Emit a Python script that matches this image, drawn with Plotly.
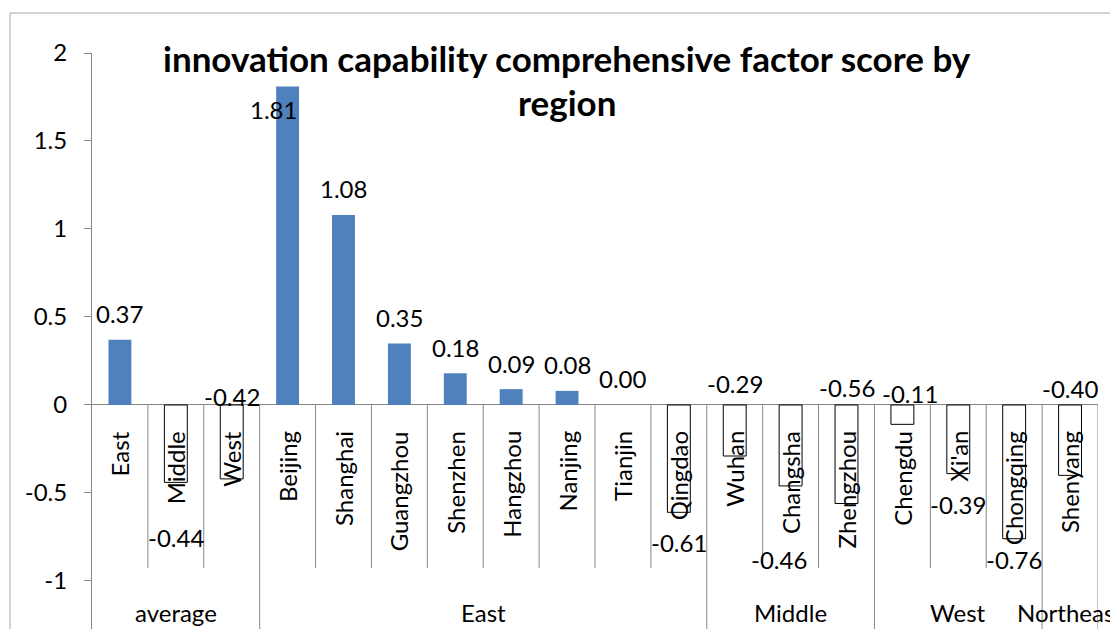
import plotly.graph_objects as go

# ---- data ----
categories = ["East", "Middle", "West",
              "Beijing", "Shanghai", "Guangzhou", "Shenzhen", "Hangzhou", "Nanjing", "Tianjin", "Qingdao",
              "Wuhan", "Changsha", "Zhengzhou",
              "Chengdu", "Xi'an", "Chongqing",
              "Shenyang"]
scores = [0.37, -0.44, -0.42,
          1.81, 1.08, 0.35, 0.18, 0.09, 0.08, 0.00, -0.61,
          -0.29, -0.46, -0.56,
          -0.11, -0.39, -0.76,
          -0.40]
groups = ["average", "East", "Middle", "West", "Northeast"]
group_sizes = [3, 8, 3, 3, 1]
title_line1 = "innovation capability comprehensive factor score by"
title_line2 = "region"
y_ticks = [-1, -0.5, 0, 0.5, 1, 1.5, 2]
y_tick_text = ["-1", "-0.5", "0", "0.5", "1", "1.5", "2"]

# ---- label placement (pixel offsets from the bar end) ----
label_dx = [0, 0, 0, -14, 0, 0, 0, 0, 0, 0, 0, 0, -12, 0, 8, 0, 0, 0]
label_dy = [26, -55, 82, -23, 26, 26, 26, 26, 26, 26, -30, 73, -74, 116, 31, -31, -21, 87]

FONT = "Lato"
FS = 24
POS = "#4F81BD"
AX = "#868686"
W, H = 1110, 629
ML, MR, MT, MB = 92, 12, 53, 0
PW, PH = W - ML - MR, H - MT - MB

fig = go.Figure()
fig.add_trace(go.Bar(
    x=categories, y=scores,
    marker=dict(color=[POS if v >= 0 else "white" for v in scores],
                line=dict(color=[POS if v >= 0 else "black" for v in scores],
                          width=[0 if v >= 0 else 1 for v in scores])),
    hoverinfo="skip",
))

shapes = []
# chart border
shapes.append(dict(type="rect", xref="paper", yref="paper",
                   x0=(10 - ML) / PW, x1=1.3, y0=-0.3, y1=(H - 13) / PH,
                   line=dict(color="#a6a6a6", width=1), fillcolor="rgba(0,0,0,0)", layer="below"))
# category dividers
idx = 0
bounds = set()
for s in group_sizes:
    idx += s
    bounds.add(idx)
for i in range(1, len(categories) + 1):
    long = i in bounds
    shapes.append(dict(type="line", xref="x", yref="y", ysizemode="pixel", yanchor=0,
                       x0=i - 0.5, x1=i - 0.5, y0=0, y1=-300 if long else -163,
                       line=dict(color=AX, width=1)))

annotations = []
# data labels
for i, (c, v) in enumerate(zip(categories, scores)):
    annotations.append(dict(x=i, y=v, xref="x", yref="y", text=f"{v:.2f}", showarrow=False,
                            xshift=label_dx[i], yshift=label_dy[i], yanchor="middle", xanchor="center",
                            font=dict(family=FONT, size=FS, color="black")))
# category labels
for i, c in enumerate(categories):
    annotations.append(dict(x=i, y=0, xref="x", yref="y", text=c, showarrow=False, textangle=-90,
                            yanchor="top", xanchor="center", yshift=-24,
                            font=dict(family=FONT, size=FS, color="black")))
# group labels
start = 0
for g, s in zip(groups, group_sizes):
    annotations.append(dict(x=start + (s - 1) / 2, y=0, xref="x", yref="y", text=g, showarrow=False,
                            yanchor="middle", xanchor="center", yshift=-208,
                            font=dict(family=FONT, size=FS, color="black")))
    start += s
# title
tx = (567 - ML) / PW
annotations.append(dict(x=tx, y=(H - 58) / PH, xref="paper", yref="paper", text=f"<b>{title_line1}</b>",
                        showarrow=False, xanchor="center", yanchor="middle",
                        font=dict(family=FONT, size=35, color="black")))
annotations.append(dict(x=tx, y=(H - 102) / PH, xref="paper", yref="paper", text=f"<b>{title_line2}</b>",
                        showarrow=False, xanchor="center", yanchor="middle",
                        font=dict(family=FONT, size=35, color="black")))

fig.update_layout(
    width=W, height=H,
    margin=dict(l=ML, r=MR, t=MT, b=MB, pad=0),
    paper_bgcolor="white", plot_bgcolor="white",
    showlegend=False,
    bargap=0.59,
    font=dict(family=FONT, size=FS, color="black"),
    xaxis=dict(type="category", range=[-0.5, len(categories) - 0.5], showticklabels=False,
               showline=False, ticks="", showgrid=False, zeroline=False, fixedrange=True),
    yaxis=dict(range=[-1.273, 2], tickvals=y_ticks, ticktext=y_tick_text, showgrid=False,
               showline=True, linecolor=AX, linewidth=1, ticks="outside", ticklen=7, tickcolor=AX,
               zeroline=True, zerolinecolor=AX, zerolinewidth=1,
               tickfont=dict(family=FONT, size=FS, color="black"), ticklabelstandoff=12),
    shapes=shapes, annotations=annotations,
)
fig.write_html("out.html")
